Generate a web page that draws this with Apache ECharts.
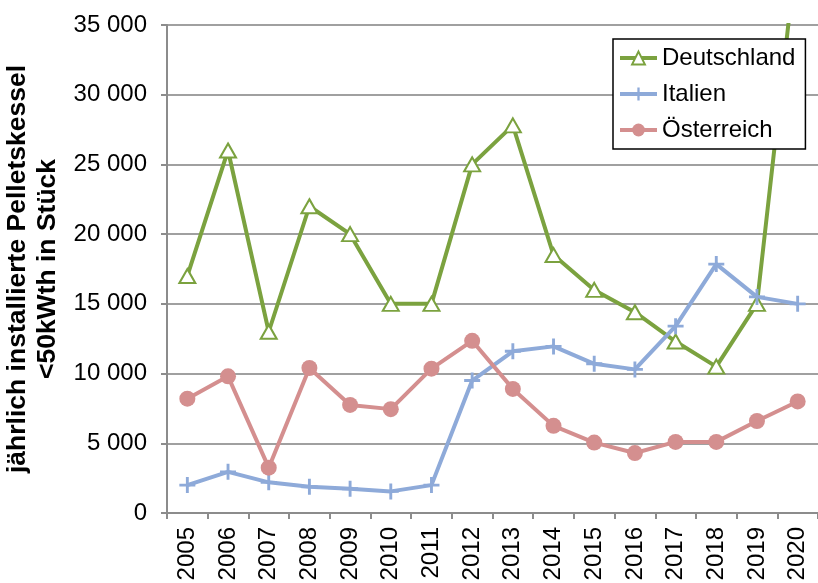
<!DOCTYPE html>
<html>
<head>
<meta charset="utf-8">
<script src="https://cdn.jsdelivr.net/npm/echarts@6/dist/echarts.min.js"></script>
<style>
html,body{margin:0;padding:0;background:#fff;}
#chart{width:818px;height:583px;}
</style>
</head>
<body>
<div id="chart"></div>
<script>
const years = ['2005','2006','2007','2008','2009','2010','2011','2012','2013','2014','2015','2016','2017','2018','2019','2020'];
const deutschland = [17000, 26000, 13000, 22000, 20000, 15000, 15000, 25000, 27800, 18500, 16000, 14400, 12300, 10500, 15000, 41000];
const italien = [2000, 2950, 2200, 1880, 1740, 1550, 2000, 9500, 11600, 11950, 10700, 10300, 13400, 17850, 15500, 15000];
const oesterreich = [8200, 9800, 3250, 10400, 7750, 7450, 10350, 12350, 8900, 6250, 5050, 4300, 5100, 5100, 6600, 8000];
const seriesNames = ['Deutschland', 'Italien', 'Österreich'];
const yAxisTitle = 'jährlich installierte Pelletskessel\n<50kWth in Stück';

const FONT = 'Liberation Sans, Arial, sans-serif';
const plusPath = 'path://M41,0H59V41H100V59H59V100H41V59H0V41H41Z';

const chart = echarts.init(document.getElementById('chart'), null, {renderer: 'canvas'});
chart.setOption({
  animation: false,
  backgroundColor: '#fff',
  textStyle: {fontFamily: FONT},
  grid: {left: 167, right: 0, top: 25, bottom: 70, containLabel: false, outerBoundsMode: 'none'},
  legend: {
    orient: 'vertical',
    left: 613, top: 39,
    padding: [7, 10, 7, 5],
    itemGap: 12,
    itemWidth: 37, itemHeight: 16,
    backgroundColor: '#fff',
    borderColor: '#000', borderWidth: 1.5,
    lineStyle: {width: 4},
    textStyle: {fontSize: 24, color: '#000', fontFamily: FONT},
    data: seriesNames
  },
  xAxis: {
    type: 'category',
    data: years,
    boundaryGap: true,
    axisLine: {lineStyle: {color: '#8c8c8c', width: 2}},
    axisTick: {show: true, length: 6, lineStyle: {color: '#8c8c8c', width: 2}},
    axisLabel: {rotate: 90, fontSize: 24, color: '#000', margin: 14, fontFamily: FONT},
    splitLine: {show: false}
  },
  yAxis: {
    type: 'value',
    min: 0, max: 35000, interval: 5000,
    name: yAxisTitle,
    nameLocation: 'middle',
    nameRotate: 90,
    nameGap: 75,
    nameTextStyle: {fontSize: 26.5, fontWeight: 'bold', color: '#000', lineHeight: 30, fontFamily: FONT},
    axisLine: {show: true, lineStyle: {color: '#8c8c8c', width: 2}},
    axisTick: {show: true, length: 6, lineStyle: {color: '#8c8c8c', width: 2}},
    axisLabel: {
      fontSize: 24, color: '#000', margin: 20, fontFamily: FONT,
      formatter: v => String(v).replace(/\B(?=(\d{3})+(?!\d))/g, ' ')
    },
    splitLine: {show: true, lineStyle: {color: '#a0a0a0', width: 2}}
  },
  series: [
    {
      name: seriesNames[0], type: 'line', data: deutschland, clip: true,
      symbol: 'triangle', symbolSize: [16, 14], showAllSymbol: true,
      lineStyle: {color: '#7BA23F', width: 4},
      itemStyle: {color: '#fff', borderColor: '#7BA23F', borderWidth: 2},
      color: '#7BA23F'
    },
    {
      name: seriesNames[1], type: 'line', data: italien, clip: true,
      symbol: plusPath, symbolSize: 16, showAllSymbol: true,
      lineStyle: {color: '#8EAAD9', width: 4},
      itemStyle: {color: '#8EAAD9', borderWidth: 0},
      color: '#8EAAD9'
    },
    {
      name: seriesNames[2], type: 'line', data: oesterreich, clip: true,
      symbol: 'circle', symbolSize: 16, showAllSymbol: true,
      lineStyle: {color: '#D48F8F', width: 4},
      itemStyle: {color: '#D48F8F', borderWidth: 0},
      color: '#D48F8F'
    }
  ]
});
</script>
</body>
</html>
